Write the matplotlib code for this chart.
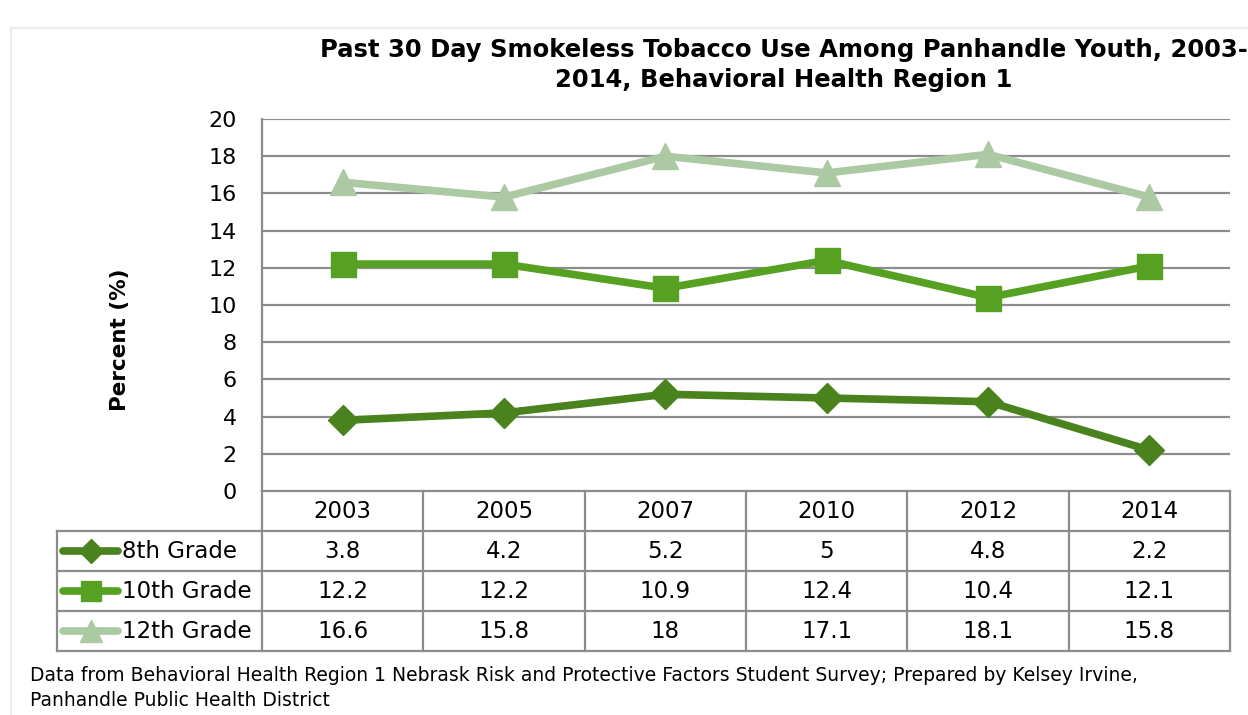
import matplotlib
matplotlib.use("Agg")
import matplotlib.pyplot as plt
from matplotlib.lines import Line2D

years = ["2003", "2005", "2007", "2010", "2012", "2014"]
grade8 = [3.8, 4.2, 5.2, 5, 4.8, 2.2]
grade10 = [12.2, 12.2, 10.9, 12.4, 10.4, 12.1]
grade12 = [16.6, 15.8, 18, 17.1, 18.1, 15.8]
series_names = ["8th Grade", "10th Grade", "12th Grade"]
y_ticks = [0, 2, 4, 6, 8, 10, 12, 14, 16, 18, 20]

title = "Past 30 Day Smokeless Tobacco Use Among Panhandle Youth, 2003-\n2014, Behavioral Health Region 1"
ylabel = "Percent (%)"
footnote = ("Data from Behavioral Health Region 1 Nebrask Risk and Protective Factors Student Survey; "
            "Prepared by Kelsey Irvine,\nPanhandle Public Health District")

colors = ["#4A821E", "#56A022", "#ABC9A3"]
markers = ["D", "s", "^"]
msizes = [15, 18, 19]
grid_col = "#8C8C8C"

plt.rcParams["font.family"] = ["DejaVu Sans"]

W, H = 1248, 715
fig = plt.figure(figsize=(W / 100, H / 100), dpi=100)

def fx(px):
    return px / W

def fy(py):
    return 1 - py / H

# plot area
L, R, T, B = 262, 1230, 119, 491
ax = fig.add_axes([fx(L), fy(B), fx(R - L), fy(T) - fy(B)])
n = len(years)
ax.set_xlim(-0.5, n - 0.5)
ax.set_ylim(0, 20)
ax.set_yticks(y_ticks)
ax.set_yticklabels([str(v) for v in y_ticks], fontsize=16)
ax.tick_params(axis="y", length=0, pad=18)
ax.set_xticks([])
for s in ["top", "right", "bottom"]:
    ax.spines[s].set_visible(False)
ax.spines["left"].set_color(grid_col)
ax.spines["left"].set_linewidth(1.6)
for v in y_ticks[1:]:
    ax.axhline(v, color=grid_col, lw=1.6, zorder=1)
fig.text(fx(120), fy(340), ylabel, rotation=90, ha="center", va="center",
         fontsize=15.5, fontweight="bold")

xs = list(range(n))
all_series = [grade8, grade10, grade12]
for vals, c, m, ms in zip(all_series, colors, markers, msizes):
    ax.plot(xs, vals, color=c, lw=5.5, marker=m, markersize=ms,
            markeredgecolor=c, zorder=3, clip_on=False, solid_joinstyle="round")

# data table below the plot area
unit = (R - L) / n
TL, TB = 57, 651
tax = fig.add_axes([fx(TL), fy(TB), fx(R - TL), fy(B) - fy(TB)])
x_left = -0.5 - (L - TL) / unit
tax.set_xlim(x_left, n - 0.5)
tax.set_ylim(0, 4)
tax.axis("off")
lk = dict(color=grid_col, lw=1.6, solid_capstyle="projecting", clip_on=False)
for yv in [0, 1, 2, 3]:
    tax.plot([x_left, n - 0.5], [yv, yv], **lk)
tax.plot([-0.5, n - 0.5], [4, 4], **lk)
tax.plot([x_left, x_left], [0, 3], **lk)
for k in range(n + 1):
    tax.plot([k - 0.5, k - 0.5], [0, 4], **lk)

tfs = 16.5
for i, yr in enumerate(years):
    tax.text(i, 3.5, yr, ha="center", va="center", fontsize=tfs)
for r, (name, vals, c, m, ms) in enumerate(zip(series_names, all_series, colors, markers, msizes)):
    yc = 2.5 - r
    for i, v in enumerate(vals):
        tax.text(i, yc, f"{v:g}", ha="center", va="center", fontsize=tfs)
    # legend key inside the row header
    x0 = x_left + 6 / unit
    x1 = x_left + 61 / unit
    tax.add_line(Line2D([x0, x1], [yc, yc], color=c, lw=5.5, solid_capstyle="round"))
    tax.add_line(Line2D([(x0 + x1) / 2], [yc], marker=m, markersize=ms * 0.8,
                        color=c, markeredgecolor=c, lw=0))
    tax.text(x_left + 65 / unit, yc, name, ha="left", va="center", fontsize=tfs)

# title and source note
fig.text(fx(784), fy(65), title, ha="center", va="center", fontsize=17.5,
         fontweight="bold", linespacing=1.35)
fig.text(fx(30), fy(688), footnote, ha="left", va="center", fontsize=13.5,
         linespacing=1.35)

# faint chart frame
fig.add_artist(Line2D([fx(11), fx(11)], [fy(28), 0], color="#EBEBEB", lw=1.5))
fig.add_artist(Line2D([fx(11), 1], [fy(28), fy(28)], color="#EBEBEB", lw=1.5))

fig.savefig("out.png", dpi=100)
